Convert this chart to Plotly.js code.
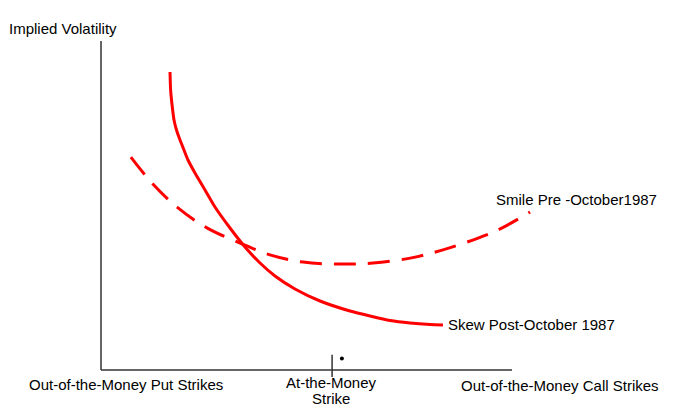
<!DOCTYPE html>
<html>
<head>
<meta charset="utf-8">
<script src="https://cdn.plot.ly/plotly-3.0.1.min.js"></script>
<style>html,body{margin:0;padding:0;background:#fff;}#chart{width:684px;height:413px;}</style>
</head>
<body>
<div id="chart"></div>
<script>
// Strike (0 = far OTM put side, 100 = end of drawn axis) and implied volatility (arbitrary 0-100 scale)
const skewStrike = [16.87, 17.02, 17.24, 17.43, 17.85, 18.46, 19.32, 20.29, 21.27, 22.98, 25.43, 27.87, 31.54, 35.21, 38.88, 42.54, 47.43, 53.55, 60.88, 65.77, 70.66, 75.55, 80.44, 83.62];
const skewVol    = [90.58, 85.11, 82.07, 79.94, 75.99, 72.95, 69.91, 66.87, 63.83, 59.88, 54.71, 49.54, 43.16, 37.39, 32.52, 28.57, 24.62, 20.97, 17.93, 16.41, 15.05, 14.29, 13.83, 13.68];
const smileStrike = [7.3, 12.5, 18.6, 25.9, 34.0, 41.3, 49.4, 58.4, 66.5, 75.6, 83.6, 92.2, 97.6, 104.9];
const smileVol    = [64.7, 56.8, 49.5, 43.2, 38.6, 35.0, 32.8, 32.2, 32.5, 34.0, 36.5, 40.1, 42.9, 48.0];
const seriesNames = ["Skew Post-October 1987", "Smile Pre -October1987"];
const axisLabels = ["Implied Volatility", "Out-of-the-Money Put Strikes", "At-the-Money", "Strike", "Out-of-the-Money Call Strikes"];
const atmStrike = 56.5;

const W = 684, H = 413;
const X0 = 101, X1 = 510, Y0 = 370, Y1 = 41;
const sx = (X1 - X0) / 100, sy = (Y0 - Y1) / 100;
const xr = [-X0 / sx, (W - X0) / sx];
const yr = [-(H - Y0) / sy, Y0 / sy];
const px = p => p / W;
const py = p => 1 - p / H;
const font = {family: "Liberation Sans, Arial, sans-serif", size: 15, color: "#000"};

const traces = [
  {x: skewStrike, y: skewVol, name: seriesNames[0], mode: "lines", type: "scatter",
   line: {color: "#ff0000", width: 3, shape: "spline", smoothing: 0.5}},
  {x: smileStrike, y: smileVol, name: seriesNames[1], mode: "lines", type: "scatter",
   line: {color: "#ff0000", width: 3, shape: "spline", dash: "22px,12px"}},
  {x: [atmStrike + 2.4], y: [3.5], mode: "markers", type: "scatter",
   marker: {color: "#000", size: 4}, hoverinfo: "skip"}
];

const ann = (text, x, y, xa) => ({text, x: px(x), y: py(y), xref: "paper", yref: "paper",
  xanchor: xa, yanchor: "middle", showarrow: false, font, align: "center"});

const layout = {
  width: W, height: H,
  margin: {l: 0, r: 0, t: 0, b: 0, pad: 0},
  paper_bgcolor: "#fff", plot_bgcolor: "#fff",
  showlegend: false,
  xaxis: {range: xr, visible: false, fixedrange: true},
  yaxis: {range: yr, visible: false, fixedrange: true},
  shapes: [
    {type: "line", x0: 0, x1: 0, y0: 0, y1: 100, line: {color: "#333", width: 1.5}},
    {type: "line", x0: 0, x1: 100.5, y0: 0, y1: 0, line: {color: "#333", width: 1.5}},
    {type: "line", x0: atmStrike, x1: atmStrike, y0: -2.1, y1: 4.6, line: {color: "#333", width: 1.5}}
  ],
  annotations: [
    ann(axisLabels[0], 7, 29, "left"),
    ann(axisLabels[1], 27, 384, "left"),
    ann(axisLabels[2], 331, 382, "center"),
    ann(axisLabels[3], 331, 398, "center"),
    ann(axisLabels[4], 459, 385, "left"),
    ann(seriesNames[1], 494, 200, "left"),
    ann(seriesNames[0], 446, 324, "left")
  ]
};

Plotly.newPlot("chart", traces, layout, {displayModeBar: false, staticPlot: true});
</script>
</body>
</html>
